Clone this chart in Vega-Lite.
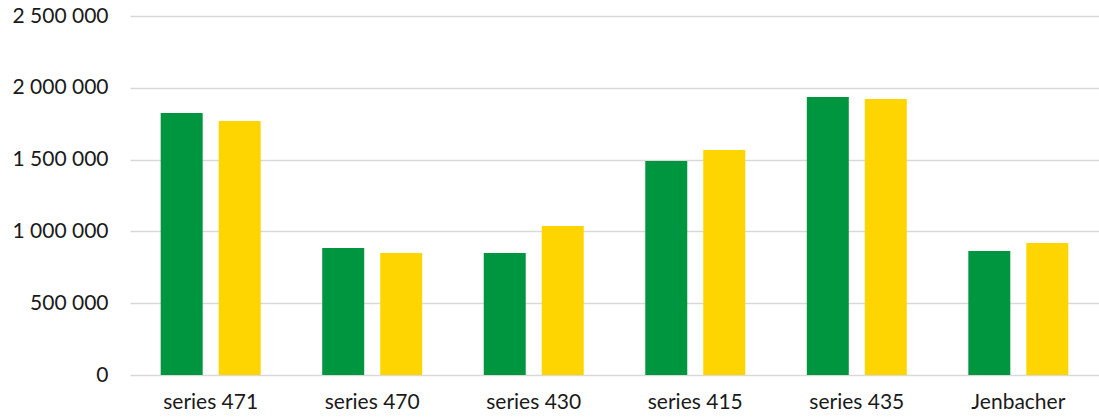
{
  "$schema": "https://vega.github.io/schema/vega-lite/v6.json",
  "width": 969,
  "height": 359,
  "autosize": "none",
  "padding": {"left": 130, "top": 16, "right": 0, "bottom": 43},
  "background": "white",
  "config": {
    "view": {"stroke": null},
    "font": "Lato"
  },
  "data": {
    "values": [
      {"category": "series 471", "series": "A", "value": 1824500},
      {"category": "series 471", "series": "B", "value": 1768800},
      {"category": "series 470", "series": "A", "value": 884400},
      {"category": "series 470", "series": "B", "value": 849600},
      {"category": "series 430", "series": "A", "value": 849600},
      {"category": "series 430", "series": "B", "value": 1037600},
      {"category": "series 415", "series": "A", "value": 1490300},
      {"category": "series 415", "series": "B", "value": 1566900},
      {"category": "series 435", "series": "A", "value": 1936000},
      {"category": "series 435", "series": "B", "value": 1922000},
      {"category": "Jenbacher", "series": "A", "value": 863500},
      {"category": "Jenbacher", "series": "B", "value": 919200}
    ]
  },
  "mark": {"type": "bar"},
  "encoding": {
    "x": {
      "field": "category",
      "type": "nominal",
      "sort": null,
      "scale": {"paddingInner": 0.381, "paddingOuter": 0.19},
      "axis": {
        "title": null,
        "labelAngle": 0,
        "labelFont": "Lato",
        "labelFontSize": 21,
        "labelColor": "#1a1a1a",
        "labelPadding": 16,
        "ticks": false,
        "domain": false,
        "grid": false
      }
    },
    "xOffset": {
      "field": "series",
      "type": "nominal",
      "scale": {"paddingInner": 0.276, "paddingOuter": 0}
    },
    "y": {
      "field": "value",
      "type": "quantitative",
      "scale": {"domain": [0, 2500000], "nice": false},
      "axis": {
        "title": null,
        "values": [0, 500000, 1000000, 1500000, 2000000, 2500000],
        "labelExpr": "replace(format(datum.value, ',d'), /,/g, ' ')",
        "labelFont": "Lato",
        "labelFontSize": 21,
        "labelColor": "#1a1a1a",
        "labelPadding": 22,
        "ticks": false,
        "domain": false,
        "grid": true,
        "gridColor": "#d9d9d9",
        "gridWidth": 1.6
      }
    },
    "color": {
      "field": "series",
      "type": "nominal",
      "scale": {"domain": ["A", "B"], "range": ["#009640", "#ffd500"]},
      "legend": null
    }
  }
}
